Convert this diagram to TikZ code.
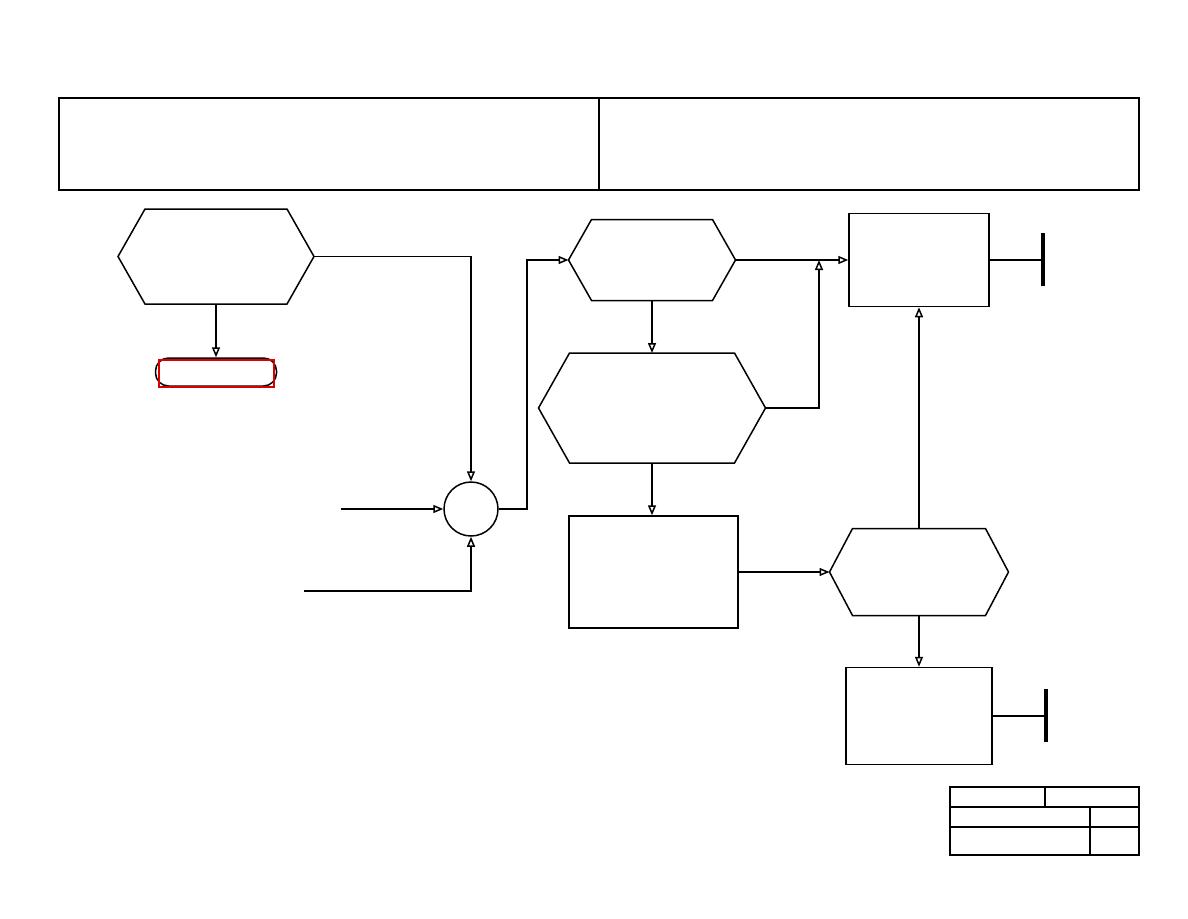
\documentclass[tikz,border=0pt]{standalone}
\usetikzlibrary{arrows.meta}
\tikzset{
  ln/.style={line width=1.5pt},
  arr/.style={ln,-{Triangle[open,length=10pt,width=8pt]}},
  boxn/.style={draw,ln,minimum width=#1,inner sep=0pt},
  hexn/.style={inner sep=0pt,outer sep=0pt},
}
\newcommand\hexdraw[2]{\draw[ln,line join=miter] (#1.west) -- ([xshift=#2]#1.north west) -- ([xshift=-#2]#1.north east) -- (#1.east) -- ([xshift=-#2]#1.south east) -- ([xshift=#2]#1.south west) -- cycle;}
\begin{document}
\begin{tikzpicture}[x=1pt,y=-1pt]
\useasboundingbox[fill=white] (0,0) rectangle (1188,918);
% header
\node[draw,line width=2pt,minimum width=540pt,minimum height=92pt,inner sep=0pt] (hdrL) at (329,144) {};
\node[draw,line width=2pt,minimum width=540pt,minimum height=92pt,inner sep=0pt] (hdrR) at (869,144) {};
% hexagons
\node[hexn,minimum width=196pt,minimum height=95pt] (h1) at (216,256.5) {};
\hexdraw{h1}{27pt}
\node[hexn,minimum width=167pt,minimum height=81pt] (h2) at (652,260) {};
\hexdraw{h2}{23pt}
\node[hexn,minimum width=227pt,minimum height=110pt] (h3) at (652,408) {};
\hexdraw{h3}{31pt}
\node[hexn,minimum width=179pt,minimum height=87pt] (h4) at (919,572) {};
\hexdraw{h4}{23pt}
% terminator
\node[draw,ln,rounded corners=13pt,minimum width=121pt,minimum height=28pt,inner sep=0pt] (rr) at (216,372) {};
\node[draw=red!85!black,line width=1.1pt,minimum width=115pt,minimum height=27pt,inner sep=0pt] (hl) at (216.5,373.5) {};
% circle
\node[draw,ln,circle,minimum size=54pt,inner sep=0pt] (c) at (471,509) {};
% boxes
\node[boxn=140pt,minimum height=93pt] (b1) at (919,260) {};
\node[boxn=169pt,minimum height=112pt] (b2) at (653.5,572) {};
\node[boxn=146pt,minimum height=97pt] (b3) at (919,716) {};
% free ends
\coordinate (in1) at (341,509);
\coordinate (in2) at (304,591);
\coordinate (j1) at (527,509);
\coordinate (j2) at (819,260);
\coordinate (bar1) at (1043,260);
\coordinate (bar1t) at (1043,233);
\coordinate (bar1b) at (1043,286);
\coordinate (bar2) at (1046,716);
\coordinate (bar2t) at (1046,689);
\coordinate (bar2b) at (1046,742);
% connectors
\draw[arr] (h1.south) -- (rr.north);
\draw[arr] (h1.east) -| (c.north);
\draw[arr] (in1) -- (c.west);
\draw[arr] (in2) -| (c.south);
\draw[arr] (c.east) -- (j1) |- (h2.west);
\draw[arr] (h2.east) -- (b1.west);
\draw[arr] (h2.south) -- (h3.north);
\draw[arr] (h3.east) -| (j2);
\draw[arr] (h3.south) -- (h3.south |- b2.north);
\draw[arr] (b2.east) -- (h4.west);
\draw[arr] (h4.north) -- (b1.south);
\draw[arr] (h4.south) -- (b3.north);
\draw[ln] (b1.east) -- (bar1);
\draw[line width=3.5pt] (bar1t) -- (bar1b);
\draw[line width=2.6pt] (b3.east) -- (bar2);
\draw[line width=3.5pt] (bar2t) -- (bar2b);
% title block
\node[draw,line width=2.6pt,minimum width=189pt,minimum height=68pt,inner sep=0pt] (tb) at (1044.5,821) {};
\draw[line width=1.8pt] (950,807) -- (1139,807);
\draw[line width=1.8pt] (950,827) -- (1139,827);
\draw[line width=1.8pt] (1045,787) -- (1045,807);
\draw[line width=1.8pt] (1090,807) -- (1090,855);
\end{tikzpicture}
\end{document}
